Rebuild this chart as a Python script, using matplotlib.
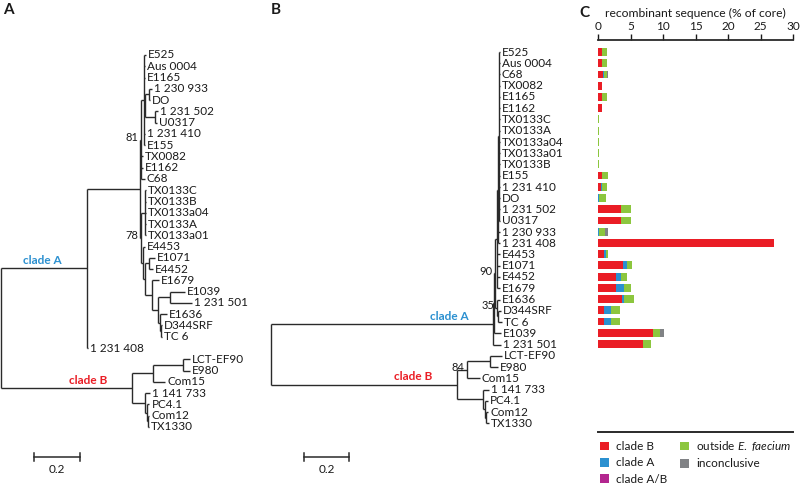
import matplotlib
matplotlib.use('Agg')
import matplotlib.pyplot as plt
from matplotlib.transforms import offset_copy

plt.rcParams['font.family'] = ['Lato', 'DejaVu Sans']
plt.rcParams['mathtext.fontset'] = 'custom'
plt.rcParams['mathtext.it'] = 'Lato:italic'
plt.rcParams['mathtext.rm'] = 'Lato'

TXT = '#1a1a1a'
LINE = '#2a2a2a'
RED = '#ea1d25'
BLUE = '#2b90d0'
MAG = '#b3268f'
GREEN = '#8cc63e'
GREY = '#808285'

# ---------------- data ----------------
# Tree A (branch lengths in substitutions/site)
tree_a = ("(((((E525:0.009,Aus 0004:0.004,E1165:0.004,((1 230 933:0.013,DO:0.004):0.017,"
          "(1 231 502:0.013,U0317:0.009):0.043):0.004,1 231 410:0.004,E155:0.004):0.013,"
          "TX0082:0.009,E1162:0.009,C68:0.017)81:0.004,((TX0133C:0.004,TX0133B:0.004,"
          "TX0133a04:0.004,TX0133A:0.004,TX0133a01:0.004):0.017,(E4453:0.009,((E1071:0.026,"
          "E4452:0.017):0.017,(E1679:0.03,((E1039:0.065,1 231 501:0.096):0.052,(E1636:0.03,"
          "(D344SRF:0.004,TC 6:0.004):0.004):0.009):0.026):0.03):0.009):0.009)78:0.004):0.23,"
          "1 231 408:0.004):0.374,(((LCT-EF90:0.03,E980:0.03):0.13,Com15:0.052):0.091,"
          "(1 141 733:0.022,(PC4.1:0.009,(Com12:0.004,TX1330:0.004):0.004):0.009):0.057):0.57);")

# Tree B (branch lengths in substitutions/site)
tree_b = ("(((((((E525:0.004,Aus 0004:0.004,C68:0.004,TX0082:0.004,E1165:0.004,E1162:0.004,"
          "TX0133C:0.004,TX0133A:0.004,TX0133a04:0.004,TX0133a01:0.004,TX0133B:0.004,E155:0.004,"
          "1 231 410:0.004,DO:0.004,1 231 502:0.004,U0317:0.004):0.004,1 230 933:0.009,"
          "1 231 408:0.009):0.004,E4453:0.013,E1071:0.013,E4452:0.013,E1679:0.013):0.009,"
          "(E1636:0.013,(D344SRF:0.013,TC 6:0.017):0.004)35:0.009)90:0.004,E1039:0.03):0.004,"
          "1 231 501:0.035):0.978,(((LCT-EF90:0.053,E980:0.035):0.101,Com15:0.057)84:0.044,"
          "(1 141 733:0.026,(PC4.1:0.013,(Com12:0.009,TX1330:0.013):0.004):0.009):0.115):0.819);")

# Panel C: recombinant sequence (% of core)
bar_strains = ['E525', 'Aus 0004', 'C68', 'TX0082', 'E1165', 'E1162', 'TX0133C', 'TX0133A',
               'TX0133a04', 'TX0133a01', 'TX0133B', 'E155', '1 231 410', 'DO', '1 231 502',
               'U0317', '1 230 933', '1 231 408', 'E4453', 'E1071', 'E4452', 'E1679', 'E1636',
               'D344SRF', 'TC 6', 'E1039', '1 231 501']
clade_b_pct = [0.6, 0.6, 0.7, 0.6, 0.6, 0.6, 0, 0, 0, 0, 0, 0.6, 0.5, 0, 3.5, 3.5, 0, 27.0,
               0.9, 3.9, 2.8, 2.8, 3.7, 0.9, 0.9, 8.5, 6.9]
clade_a_pct = [0, 0, 0.2, 0, 0, 0, 0.05, 0.05, 0.05, 0.05, 0.05, 0, 0.05, 0.1, 0.05, 0.05, 0.2, 0,
               0.4, 0.5, 0.7, 1.2, 0.3, 1.1, 1.1, 0, 0]
clade_ab_pct = [0] * 27
outside_pct = [0.8, 0.8, 0.5, 0, 0.8, 0, 0.08, 0.08, 0.08, 0.08, 0.08, 0.9, 0.9, 1.1, 1.5, 1.5,
               0.9, 0.1, 0.3, 0.8, 1.0, 1.1, 1.5, 1.4, 1.4, 1.0, 1.3]
inconclusive_pct = [0, 0, 0.1, 0, 0, 0, 0, 0, 0, 0, 0, 0, 0, 0, 0, 0, 0.4, 0, 0, 0, 0, 0, 0, 0, 0,
                    0.6, 0]
bar_ticks = [0, 5, 10, 15, 20, 25, 30]


# ---------------- helpers ----------------
def parse_newick(s):
    pos = 0

    def node():
        nonlocal pos
        children = []
        if s[pos] == '(':
            pos += 1
            while True:
                children.append(node())
                if s[pos] == ',':
                    pos += 1
                    continue
                if s[pos] == ')':
                    pos += 1
                    break
                raise ValueError('bad newick at %d' % pos)
        start = pos
        while s[pos] not in ':,);':
            pos += 1
        name = s[start:pos].strip()
        length = 0.0
        if s[pos] == ':':
            pos += 1
            start = pos
            while s[pos] not in ',);':
                pos += 1
            length = float(s[start:pos])
        return {'name': name, 'len': length, 'children': children}

    return node()


def layout(n, x0=0.0, counter=None):
    if counter is None:
        counter = [0]
    n['x'] = x0 + n['len']
    if not n['children']:
        n['y'] = counter[0]
        counter[0] += 1
    else:
        for c in n['children']:
            layout(c, n['x'], counter)
        n['y'] = (n['children'][0]['y'] + n['children'][-1]['y']) / 2.0
    return n


def draw_tree(ax, n):
    if n['children']:
        ys = [c['y'] for c in n['children']]
        ax.plot([n['x'], n['x']], [min(ys), max(ys)], color=LINE, lw=1.0,
                solid_capstyle='butt')
        for c in n['children']:
            ax.plot([n['x'], c['x']], [c['y'], c['y']], color=LINE, lw=1.0,
                    solid_capstyle='butt')
            draw_tree(ax, c)
        if n['name']:
            tr = offset_copy(ax.transData, fig=ax.figure, x=-2, y=1.5, units='points')
            ax.text(n['x'], n['y'], n['name'], transform=tr, ha='right', va='center',
                    fontsize=8, color=TXT)
    else:
        tr = offset_copy(ax.transData, fig=ax.figure, x=1.5, y=0, units='points')
        ax.text(n['x'], n['y'], n['name'], transform=tr, ha='left', va='center',
                fontsize=8.5, color=TXT)


def tree_axes(fig, x0px, ppu, y0px, rowpx):
    ax = fig.add_axes([0, 0, 1, 1])
    ax.set_xlim(-x0px / ppu, (800 - x0px) / ppu)
    ax.set_ylim((486 - y0px) / rowpx, -y0px / rowpx)
    ax.axis('off')
    ax.patch.set_alpha(0)
    return ax


def scale_bar(ax, x, y):
    ax.plot([x, x + 0.2], [y, y], color=LINE, lw=1.1)
    for xx in (x, x + 0.2):
        ax.plot([xx, xx], [y - 0.35, y + 0.35], color=LINE, lw=1.1)
    ax.text(x + 0.1, y + 1.15, '0.2', ha='center', va='center', fontsize=8.5, color=TXT)


fig = plt.figure(figsize=(8, 4.86), dpi=100)

# ---------------- Panel A ----------------
ta = layout(parse_newick(tree_a))
axA = tree_axes(fig, 1, 230, 55, 11.27)
draw_tree(axA, ta)
cA, cB = ta['children'][0], ta['children'][1]
tr = offset_copy(axA.transData, fig=fig, x=0, y=1.5, units='points')
axA.text(0.178, cA['y'], 'clade A', transform=tr, ha='center', va='bottom', fontsize=8.5,
         fontweight='bold', color=BLUE)
axA.text(0.378, cB['y'], 'clade B', transform=tr, ha='center', va='bottom', fontsize=8.5,
         fontweight='bold', color=RED)
scale_bar(axA, 0.143, (457 - 55) / 11.27)

# ---------------- Panel B ----------------
tb = layout(parse_newick(tree_b))
axB = tree_axes(fig, 271, 227, 52, 11.25)
draw_tree(axB, tb)
cA, cB = tb['children'][0], tb['children'][1]
tr = offset_copy(axB.transData, fig=fig, x=0, y=1.5, units='points')
axB.text(0.784, cA['y'], 'clade A', transform=tr, ha='center', va='bottom', fontsize=8.5,
         fontweight='bold', color=BLUE)
axB.text(0.626, cB['y'], 'clade B', transform=tr, ha='center', va='bottom', fontsize=8.5,
         fontweight='bold', color=RED)
scale_bar(axB, 0.145, (457 - 52) / 11.25)

# ---------------- Panel C ----------------
axC = fig.add_axes([598 / 800, 1 - 432 / 486, 195 / 800, 392 / 486])
rows = list(range(len(bar_strains)))
left = [0.0] * len(rows)
series = [('clade B', clade_b_pct, RED), ('clade A', clade_a_pct, BLUE),
          ('clade A/B', clade_ab_pct, MAG), ('outside $\\mathit{E.\\ faecium}$', outside_pct, GREEN),
          ('inconclusive', inconclusive_pct, GREY)]
handles = []
for lab, vals, col in series:
    h = axC.barh(rows, vals, left=left, height=0.7, color=col, label=lab, linewidth=0)
    handles.append(h)
    left = [l + v for l, v in zip(left, vals)]
axC.set_xlim(0, 30)
axC.set_ylim((432 - 52) / 11.23, (40 - 52) / 11.23)
axC.xaxis.tick_top()
axC.xaxis.set_label_position('top')
axC.set_xticks(bar_ticks)
axC.tick_params(axis='x', direction='out', length=4, width=1.0, pad=1.5, labelsize=8.5,
                colors=TXT)
axC.set_yticks([])
axC.set_xlabel('recombinant sequence (% of core)', fontsize=8.7, color=TXT, labelpad=3)
for s in ('left', 'right'):
    axC.spines[s].set_visible(False)
axC.spines['top'].set_linewidth(1.3)
axC.spines['top'].set_color(LINE)
axC.spines['bottom'].set_linewidth(1.4)
axC.spines['bottom'].set_color(LINE)
axC.patch.set_alpha(0)

fig.legend(handles=handles, loc='upper left', bbox_to_anchor=(600 / 800, 1 - 439 / 486),
           ncol=2, frameon=False, fontsize=8.5, handlelength=0.75, handleheight=0.75,
           handletextpad=0.6, labelspacing=0.45, columnspacing=1.1, borderpad=0.0,
           borderaxespad=0.0, labelcolor=TXT)

# panel letters
fig.text(3 / 800, 1 - 10 / 486, 'A', fontsize=11, fontweight='bold', va='center', color=TXT)
fig.text(271 / 800, 1 - 10 / 486, 'B', fontsize=11, fontweight='bold', va='center', color=TXT)
fig.text(579 / 800, 1 - 13 / 486, 'C', fontsize=11, fontweight='bold', va='center', color=TXT)

fig.savefig('out.png', dpi=100)
